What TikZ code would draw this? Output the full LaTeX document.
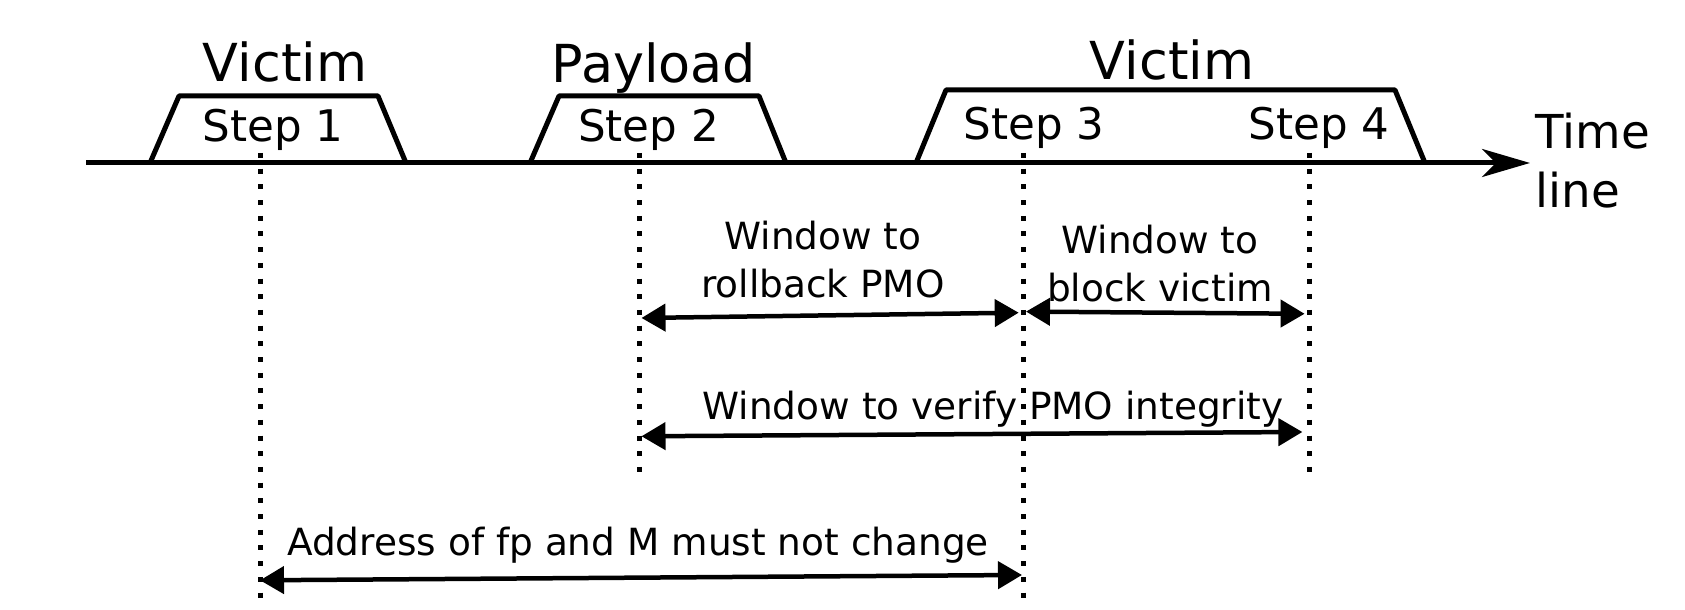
\documentclass[tikz,border=0pt]{standalone}
\usepackage{fontspec}
\setmainfont{DejaVu Sans}
\usetikzlibrary{arrows.meta}
\def\dline{\draw[line width=0.05cm,dash pattern=on 0.05cm off 0.107cm]}
\def\wdraw{\draw[window]}

\begin{document}
\begin{tikzpicture}[
    window/.style={line width=0.045cm,
        {Triangle[length=0.24cm,width=0.27cm]}-{Triangle[length=0.24cm,width=0.27cm]}},
    phase/.style={line width=0.05cm,line join=round},
    who/.style={font=\fontsize{14.9}{18}\selectfont,anchor=base,inner sep=0pt},
    stp/.style={font=\fontsize{12.4}{15}\selectfont,anchor=base,inner sep=0pt},
    lbl/.style={font=\fontsize{10.65}{13.66}\selectfont,align=center,anchor=base,inner sep=0pt}]
\useasboundingbox (0,0) rectangle (16.85,6.10);
% time line
\coordinate (t0) at (0.86,4.47);
\coordinate (t1) at (15.30,4.47);
\draw[line width=0.05cm,-{Stealth[length=0.48cm,width=0.28cm,inset=0.14cm]}] (t0) -- (t1);
\node[font=\fontsize{13.3}{17}\selectfont,align=left,anchor=base west,inner sep=0pt]
    (tl) at (15.35,4.02) {Time\\line};
% the three phases
\draw[phase] (1.50,4.47) -- (1.79,5.14) -- (3.78,5.14) -- (4.06,4.47);
\draw[phase] (5.30,4.47) -- (5.59,5.14) -- (7.59,5.14) -- (7.86,4.47);
\draw[phase] (9.16,4.47) -- (9.46,5.20) -- (13.95,5.20) -- (14.25,4.47);
\node[who] (vic1) at (2.85,5.28) {Victim};
\node[who] (pay) at (6.54,5.27) {Payload};
\node[who] (vic2) at (11.72,5.305) {Victim};
\node[stp] (st1) at (2.73,4.68) {Step 1};
\node[stp] (st2) at (6.485,4.68) {Step 2};
\node[stp] (st3) at (10.34,4.70) {Step 3};
\node[stp] (st4) at (13.19,4.70) {Step 4};
% markers under each step
\foreach \n/\x/\y in {a/2.60/0.06, b/6.394/1.37, c/10.23/0.10, d/13.09/1.37} {
    \coordinate (\n top) at (\x,4.57);
    \coordinate (\n bot) at (\x,\y);
    \dline (\n top) -- (\n bot);
}
% windows
\coordinate (rbL) at (6.415,2.92);
\coordinate (rbR) at (10.187,2.973);
\coordinate (bvL) at (10.26,2.984);
\coordinate (bvR) at (13.046,2.962);
\coordinate (vfL) at (6.415,1.737);
\coordinate (vfR) at (13.024,1.78);
\coordinate (adL) at (2.60,0.297);
\coordinate (adR) at (10.22,0.35);
\wdraw (rbL) -- (rbR);
\wdraw (bvL) -- (bvR);
\wdraw (vfL) -- (vfR);
\wdraw (adL) -- (adR);
\node[lbl] (rb) at (8.23,3.12) {Window to\\rollback PMO};
\node[lbl] (bv) at (11.60,3.08) {Window to\\block victim};
\node[lbl] (vf) at (9.93,1.90) {Window to verify PMO integrity};
\node[lbl] (ad) at (6.38,0.54) {Address of fp and M must not change};
\end{tikzpicture}
\end{document}
